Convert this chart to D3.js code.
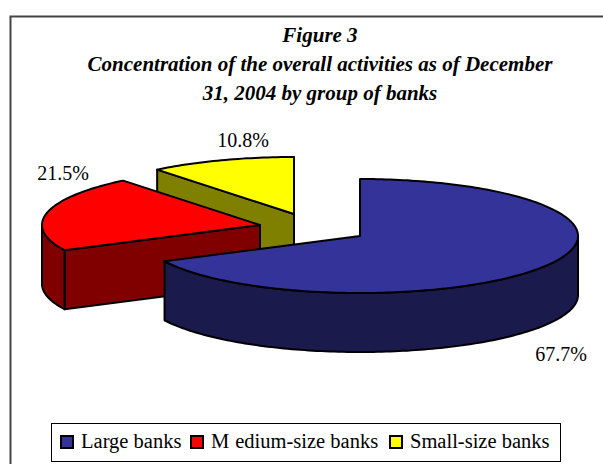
<!DOCTYPE html>
<html>
<head>
<meta charset="utf-8">
<script src="https://cdn.jsdelivr.net/npm/d3@7"></script>
<style>
  html, body { margin: 0; padding: 0; background: #fff; }
  svg { display: block; }
  text { font-family: "Liberation Serif", serif; fill: #000; }
</style>
</head>
<body>
<svg id="grafico"></svg>
<script>
var categorias = ['Large banks', 'Medium-size banks', 'Small-size banks'];
var valores = [67.7, 21.5, 10.8];
var coresTopo = ['#333399', '#ff0000', '#ffff00'];
var coresLado = ['#1a1a4d', '#800000', '#808000'];
var titulo = ['Figure 3', 'Concentration of the overall activities as of December', '31, 2004 by group of banks'];

var largura = 603, altura = 464;
var svg = d3.select('#grafico').attr('width', largura).attr('height', altura);

// moldura
svg.append('path')
   .attr('d', 'M10.5,464V16.5H603')
   .attr('fill', 'none')
   .attr('stroke', '#444')
   .attr('stroke-width', 2);

svg.selectAll('.titulo')
   .data(titulo)
   .enter()
     .append('text')
     .classed('titulo', true)
     .attr('x', 320)
     .attr('y', (d,i) => 42 + i*29)
     .attr('text-anchor', 'middle')
     .style('font-size', '21px')
     .style('font-weight', 'bold')
     .style('font-style', 'italic')
     .text(d => d);

// pizza em perspectiva: raio em x, raio em y, altura da parede
var rx = 218, ry = 57, parede = 59;
var centros = [[360,236],[260,225],[294,214]];
var rotulos = [[561,361],[63,180],[243,147]];

var fatias = d3.pie().sort(null).value(d => d)(valores);

var sx = d3.scaleLinear().domain([-1,1]).range([-rx,rx]);
var sy = d3.scaleLinear().domain([-1,1]).range([-ry,ry]);
var ponto = a => [sx(Math.sin(a)), sy(-Math.cos(a))];

function arco(a0, a1) {
  var n = Math.max(2, Math.ceil(Math.abs(a1-a0)/0.02));
  return d3.range(n+1).map(i => ponto(a0 + (a1-a0)*i/n));
}
var linha = d3.line();
var abaixo = p => [p[0], p[1]+parede];

// da fatia de tras para a da frente
[2,1,0].forEach(function(i) {
  var f = fatias[i];
  var g = svg.append('g')
             .attr('transform', 'translate('+centros[i]+')')
             .attr('stroke', '#000')
             .attr('stroke-width', 2)
             .attr('stroke-linejoin', 'round');

  // face radial visivel (borda esquerda da fatia, virada para a frente)
  if (i > 0) {
    var p = ponto(f.startAngle);
    g.append('path')
     .attr('d', linha([[0,0], p, abaixo(p), [0,parede]]) + 'Z')
     .attr('fill', coresLado[i]);
  }

  // parede externa: so a parte voltada para a frente (entre 90 e 270 graus)
  var ini = Math.max(f.startAngle, Math.PI/2);
  var fim = Math.min(f.endAngle, Math.PI*1.5);
  if (fim > ini) {
    var topo = arco(ini, fim);
    g.append('path')
     .attr('d', linha(topo.concat(topo.slice().reverse().map(abaixo))) + 'Z')
     .attr('fill', coresLado[i]);
  }

  // tampo
  g.append('path')
   .attr('d', linha([[0,0]].concat(arco(f.startAngle, f.endAngle))) + 'Z')
   .attr('fill', coresTopo[i]);

  svg.append('text')
     .attr('x', rotulos[i][0])
     .attr('y', rotulos[i][1])
     .attr('text-anchor', 'middle')
     .style('font-size', '20px')
     .text(d3.format('.1f')(valores[i]) + '%');
});

// legenda
var legenda = svg.append('g');
legenda.append('rect')
       .attr('x', 51.5).attr('y', 423.5)
       .attr('width', 509).attr('height', 38)
       .attr('fill', '#fff').attr('stroke', '#000');
var xLegenda = [61, 191, 390];
var itens = legenda.selectAll('.item')
  .data(categorias)
  .enter()
    .append('g')
    .classed('item', true)
    .attr('transform', (d,i) => 'translate('+xLegenda[i]+',436)');
itens.append('rect')
     .attr('width', 12).attr('height', 12)
     .attr('fill', (d,i) => coresTopo[i])
     .attr('stroke', '#000').attr('stroke-width', 2);
// o "M" do original fica afastado do resto da palavra
var textos = itens.append('text')
     .attr('x', 20).attr('y', 12)
     .style('font-size', '20.5px');
textos.append('tspan').text(d => d.charAt(0));
textos.append('tspan')
      .attr('dx', (d,i) => i === 1 ? 6 : 0)
      .text(d => d.slice(1));
</script>
</body>
</html>
